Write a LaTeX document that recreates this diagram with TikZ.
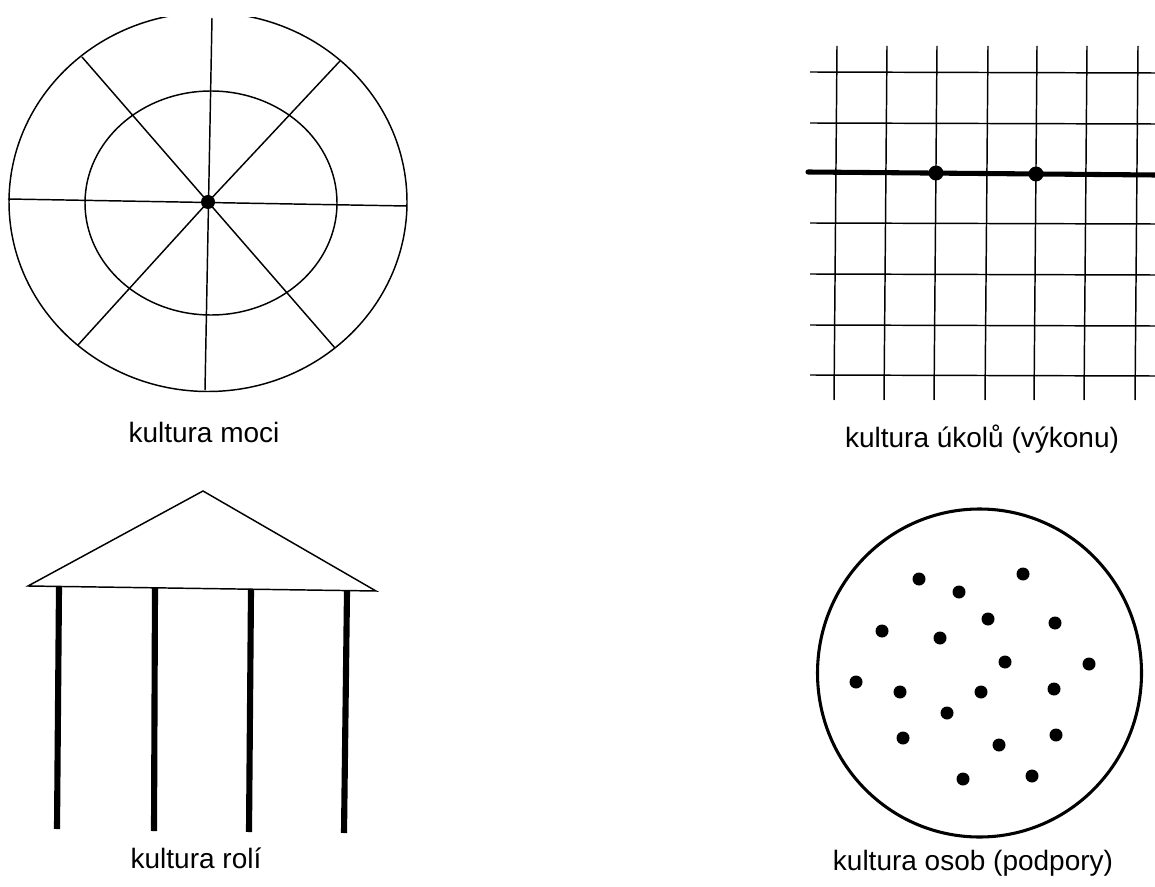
\documentclass[tikz,border=0pt]{standalone}
\usepackage{fontspec}
\setmainfont{Liberation Sans}
\begin{document}
\begin{tikzpicture}[x=0.75pt,y=-0.75pt,
  thin line/.style={line width=1.1pt,black},
  column/.style={line width=4.6pt,black},
  dotmark/.style={fill=black},
  caption/.style={anchor=base,inner sep=0pt,font=\fontsize{21}{25}\selectfont}]
\useasboundingbox[fill=white] (0,0) rectangle (1155,887);

% --- kultura moci ---
\begin{scope}
\clip (0,18) rectangle (430,400);
\draw[thin line] (208,202) ellipse [x radius=199, y radius=189.5];
\end{scope}
\draw[thin line] (211,203) ellipse [x radius=126, y radius=112];
\coordinate (pc) at (208,202);
\draw[thin line] (8,199) -- (407,206);
\draw[thin line] (212,18) -- (205,390);
\draw[thin line] (82,57) -- (pc) -- (335,348);
\draw[thin line] (340,61) -- (pc) -- (78,345);
\fill[dotmark] (pc) circle [radius=7];
\node[caption] (moci) at (204,442) {kultura moci};

% --- kultura úkolů ---
\foreach \x/\d in {837/3,887/3,937/3,988/3,1037/3,1087/3,1138/3}{
  \draw[thin line] (\x,46) -- (\x-\d,400);
}
\foreach \y in {72,123,223,274,325,375}{
  \draw[thin line] (810,\y) -- (1155,\y+1);
}
\coordinate (tl) at (808,172);
\coordinate (tr) at (1155,175);
\draw[line width=3.8pt,line cap=round] (tl) -- (tr);
\fill[dotmark] (936,173) circle [radius=7.5];
\fill[dotmark] (1036,174) circle [radius=7.5];
\node[caption] (ukolu) at (982,447) {kultura úkolů (výkonu)};

% --- kultura rolí ---
\draw[thin line,line join=miter] (28,586) -- (203,491) -- (376,591) -- cycle;
\draw[column] (59,587) -- (57,829);
\draw[column] (155,588) -- (154,831);
\draw[column] (251,589) -- (249,832);
\draw[column] (347,591) -- (344,833);
\node[caption] (roli) at (196,868) {kultura rolí};

% --- kultura osob ---
\draw[line width=2.3pt] (979.5,673) ellipse [x radius=162, y radius=164];
\foreach \p in {(919,579),(959,592),(1023,574),(988,619),(1055,623),(882,631),(940,638),(1005,662),(1089,664),(856,682),(900,692),(981,692),(1054,689),(947,713),(903,738),(999,745),(1056,735),(963,779),(1032,776)}{
  \fill[dotmark] \p circle [radius=6.5];
}
\node[caption] (osob) at (973,870) {kultura osob (podpory)};
\end{tikzpicture}
\end{document}
